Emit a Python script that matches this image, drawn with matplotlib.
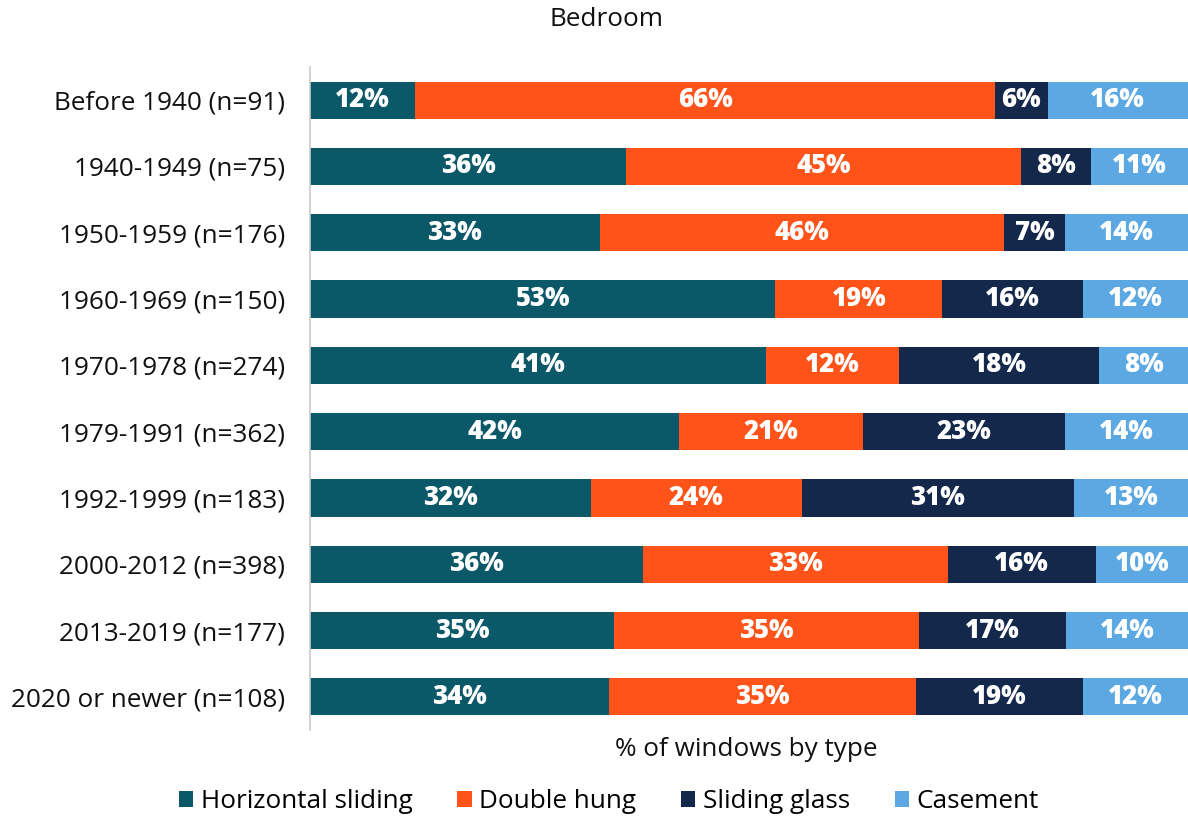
import matplotlib
matplotlib.use("Agg")
import matplotlib.pyplot as plt
import numpy as np
from matplotlib.patches import Patch

categories = ["Before 1940 (n=91)", "1940-1949 (n=75)", "1950-1959 (n=176)",
              "1960-1969 (n=150)", "1970-1978 (n=274)", "1979-1991 (n=362)",
              "1992-1999 (n=183)", "2000-2012 (n=398)", "2013-2019 (n=177)",
              "2020 or newer (n=108)"]
horizontal_sliding = [12, 36, 33, 53, 41, 42, 32, 36, 35, 34]
double_hung = [66, 45, 46, 19, 12, 21, 24, 33, 35, 35]
sliding_glass = [6, 8, 7, 16, 18, 23, 31, 16, 17, 19]
casement = [16, 11, 14, 12, 8, 14, 13, 10, 14, 12]
series_names = ["Horizontal sliding", "Double hung", "Sliding glass", "Casement"]
colors = ["#0B5868", "#FF5319", "#13284A", "#5BA8E3"]

plt.rcParams['font.family'] = ['Open Sans', 'DejaVu Sans']
FS = 18.8

data = np.array([horizontal_sliding, double_hung, sliding_glass, casement], dtype=float)
totals = data.sum(axis=0)
norm = data / totals * 100

fig = plt.figure(figsize=(11.88, 8.19), dpi=100)
ax = fig.add_axes([310/1188, 89/819, 878/1188, 663/819])
y = np.arange(len(categories))
left = np.zeros(len(categories))
for i in range(4):
    ax.barh(y, norm[i], left=left, height=0.56, color=colors[i], edgecolor='none')
    for j in range(len(categories)):
        ax.text(left[j] + norm[i][j] / 2, y[j], f"{int(data[i][j])}%", ha='center', va='center',
                color='white', fontsize=18.5, fontweight='heavy')
    left += norm[i]

ax.set_xlim(0, 100)
ax.set_ylim(len(categories) - 0.5, -0.5)
ax.set_yticks(y)
ax.set_yticklabels(categories, fontsize=FS, color='#111111')
ax.tick_params(axis='y', length=0, pad=18)
ax.set_xticks([])
for s in ['top', 'right', 'bottom']:
    ax.spines[s].set_visible(False)
ax.spines['left'].set_color('#cccccc')
ax.spines['left'].set_linewidth(1.2)

fig.text(607/1188, 1 - 19/819, "Bedroom", ha='center', va='center', fontsize=FS, color='#111111')
fig.text(746/1188, 1 - 750/819, "% of windows by type", ha='center', va='center', fontsize=FS, color='#111111')

handles = [Patch(facecolor=c, edgecolor='none') for c in colors]
fig.legend(handles, series_names, loc='center', bbox_to_anchor=(609/1188, 1 - 802/819), ncol=4,
           frameon=False, fontsize=FS, handlelength=0.55, handleheight=0.55, handletextpad=0.3,
           columnspacing=1.7)

fig.savefig("out.png", dpi=100)
